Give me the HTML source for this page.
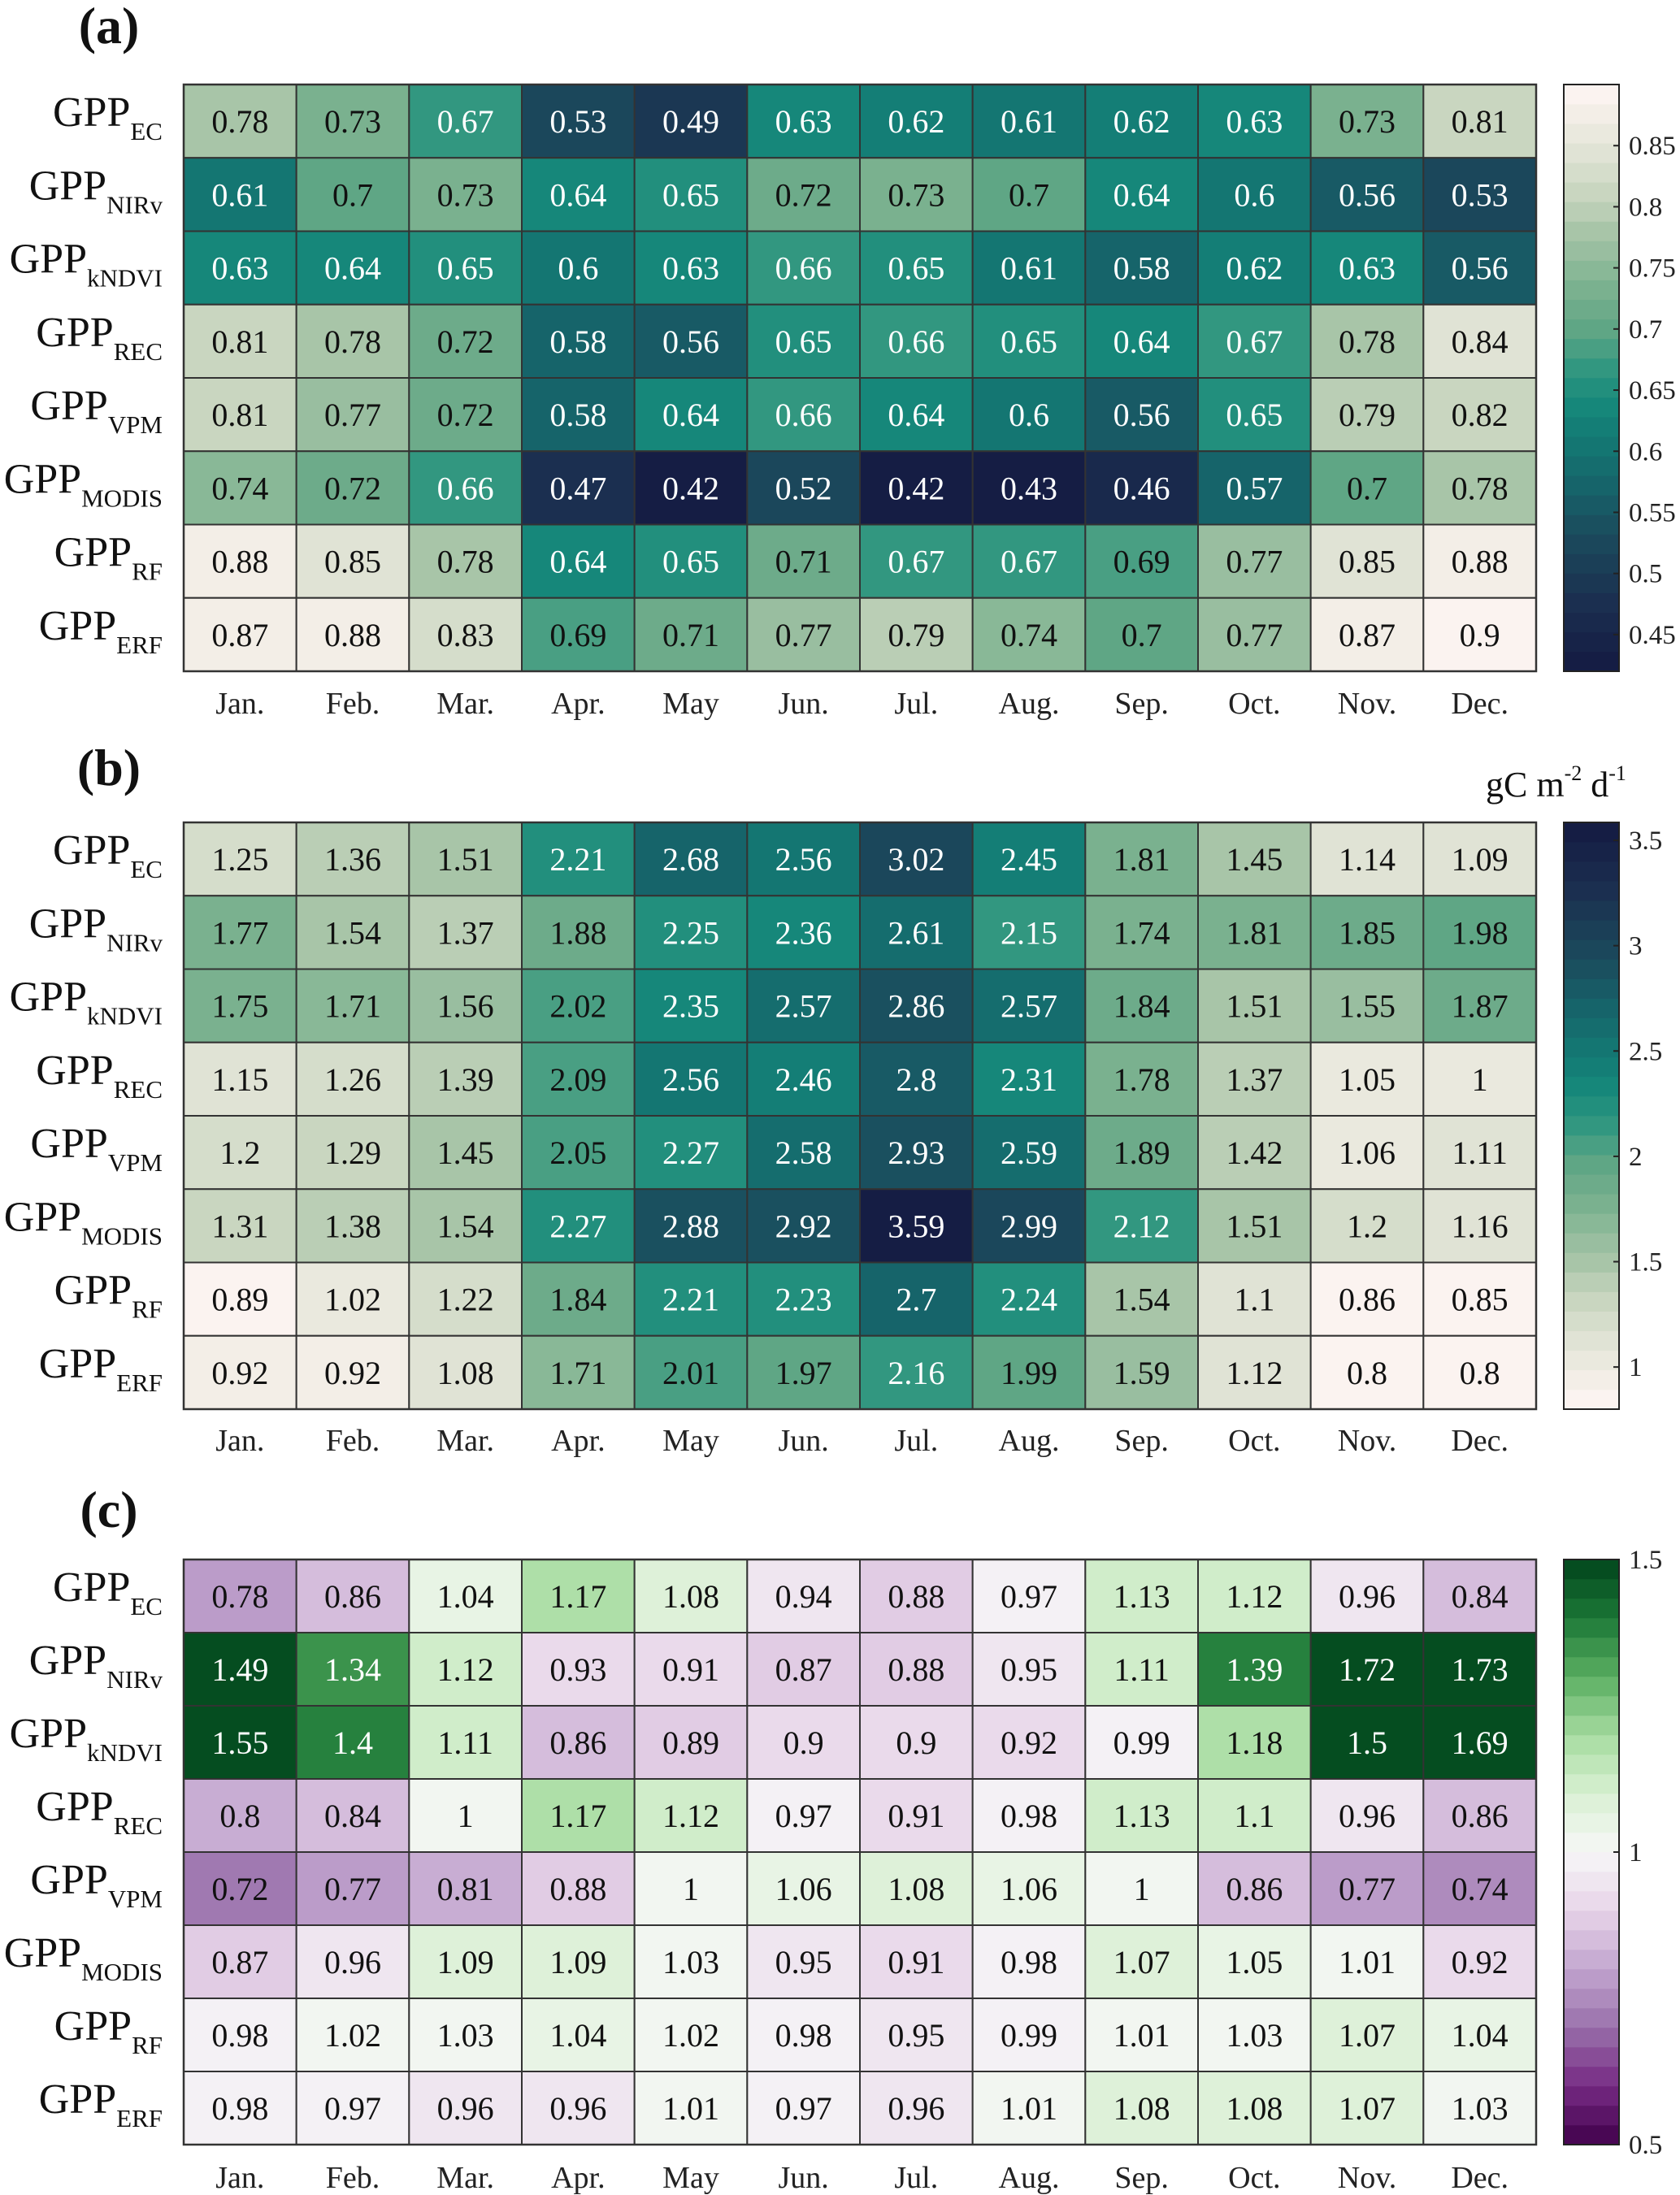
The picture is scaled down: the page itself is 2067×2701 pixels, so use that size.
<!DOCTYPE html>
<html><head><meta charset="utf-8"><style>
html,body{margin:0;padding:0;background:#fff;}
svg{display:block;}
svg text{font-family:"Liberation Serif","DejaVu Serif",serif;}
</style></head><body>
<svg id="fig" width="2067" height="2701" viewBox="0 0 2067 2701" font-family="Liberation Serif, serif" xmlns="http://www.w3.org/2000/svg"></svg>
<script>
const months = ["Jan.","Feb.","Mar.","Apr.","May","Jun.","Jul.","Aug.","Sep.","Oct.","Nov.","Dec."];
const rowSubs = ["EC","NIRv","kNDVI","REC","VPM","MODIS","RF","ERF"];
const valuesA = [
[0.78,0.73,0.67,0.53,0.49,0.63,0.62,0.61,0.62,0.63,0.73,0.81],
[0.61,0.7,0.73,0.64,0.65,0.72,0.73,0.7,0.64,0.6,0.56,0.53],
[0.63,0.64,0.65,0.6,0.63,0.66,0.65,0.61,0.58,0.62,0.63,0.56],
[0.81,0.78,0.72,0.58,0.56,0.65,0.66,0.65,0.64,0.67,0.78,0.84],
[0.81,0.77,0.72,0.58,0.64,0.66,0.64,0.6,0.56,0.65,0.79,0.82],
[0.74,0.72,0.66,0.47,0.42,0.52,0.42,0.43,0.46,0.57,0.7,0.78],
[0.88,0.85,0.78,0.64,0.65,0.71,0.67,0.67,0.69,0.77,0.85,0.88],
[0.87,0.88,0.83,0.69,0.71,0.77,0.79,0.74,0.7,0.77,0.87,0.9]];
const valuesB = [
[1.25,1.36,1.51,2.21,2.68,2.56,3.02,2.45,1.81,1.45,1.14,1.09],
[1.77,1.54,1.37,1.88,2.25,2.36,2.61,2.15,1.74,1.81,1.85,1.98],
[1.75,1.71,1.56,2.02,2.35,2.57,2.86,2.57,1.84,1.51,1.55,1.87],
[1.15,1.26,1.39,2.09,2.56,2.46,2.8,2.31,1.78,1.37,1.05,1],
[1.2,1.29,1.45,2.05,2.27,2.58,2.93,2.59,1.89,1.42,1.06,1.11],
[1.31,1.38,1.54,2.27,2.88,2.92,3.59,2.99,2.12,1.51,1.2,1.16],
[0.89,1.02,1.22,1.84,2.21,2.23,2.7,2.24,1.54,1.1,0.86,0.85],
[0.92,0.92,1.08,1.71,2.01,1.97,2.16,1.99,1.59,1.12,0.8,0.8]];
const valuesC = [
[0.78,0.86,1.04,1.17,1.08,0.94,0.88,0.97,1.13,1.12,0.96,0.84],
[1.49,1.34,1.12,0.93,0.91,0.87,0.88,0.95,1.11,1.39,1.72,1.73],
[1.55,1.4,1.11,0.86,0.89,0.9,0.9,0.92,0.99,1.18,1.5,1.69],
[0.8,0.84,1,1.17,1.12,0.97,0.91,0.98,1.13,1.1,0.96,0.86],
[0.72,0.77,0.81,0.88,1,1.06,1.08,1.06,1,0.86,0.77,0.74],
[0.87,0.96,1.09,1.09,1.03,0.95,0.91,0.98,1.07,1.05,1.01,0.92],
[0.98,1.02,1.03,1.04,1.02,0.98,0.95,0.99,1.01,1.03,1.07,1.04],
[0.98,0.97,0.96,0.96,1.01,0.97,0.96,1.01,1.08,1.08,1.07,1.03]];
const ticksA = [0.45,0.5,0.55,0.6,0.65,0.7,0.75,0.8,0.85];
const ticksB = [1,1.5,2,2.5,3,3.5];
const ticksC = [0.5,1,1.5];

const NS="http://www.w3.org/2000/svg";
const svg=document.getElementById('fig');
function mk(tag,attrs,parent){const e=document.createElementNS(NS,tag);for(const k in attrs)e.setAttribute(k,attrs[k]);if(tag==='text')e.setAttribute('font-family','Liberation Serif, serif');(parent||svg).appendChild(e);return e;}
function hex(h){return [parseInt(h.slice(1,3),16),parseInt(h.slice(3,5),16),parseInt(h.slice(5,7),16)];}
function interp(stops,t){t=Math.max(0,Math.min(1,t));for(let i=1;i<stops.length;i++){if(t<=stops[i][0]){const a=stops[i-1],b=stops[i];const f=(t-a[0])/(b[0]-a[0]);const ca=hex(a[1]),cb=hex(b[1]);return 'rgb('+ca.map((v,j)=>Math.round(v+(cb[j]-v)*f)).join(',')+')';}}return stops[stops.length-1][1];}
const tempo=[[0,'#fff6f4'],[0.1,'#e6e6da'],[0.2,'#c3d3bb'],[0.25,'#a8c5a8'],[0.35,'#7ab18f'],[0.42,'#5ea585'],[0.48,'#349880'],[0.54,'#178a7b'],[0.6,'#137a74'],[0.68,'#16656b'],[0.77,'#1b4a5c'],[0.88,'#1b3050'],[1,'#141a42']];
const prgn=[[0,'#40004b'],[0.1,'#762a83'],[0.2,'#9970ab'],[0.3,'#c2a5cf'],[0.4,'#e7d4e8'],[0.5,'#f7f7f7'],[0.6,'#d9f0d3'],[0.7,'#a6dba0'],[0.8,'#5aae61'],[0.9,'#1b7837'],[1,'#00441b']];
const NL=30;
function q(t){t=Math.max(0,Math.min(0.9999,t));return (Math.floor(t*NL)+0.5)/NL;}

const X0=226,X1=1890,CBX0=1924,CBX1=1992;
const panels=[
 {id:'a',vals:valuesA,top:104,bot:826,vmin:0.42,vmax:0.9,rev:true,stops:tempo,ticks:ticksA,white:c=>c>0.47,label:'(a)',ly:31,my:865},
 {id:'b',vals:valuesB,top:1012,bot:1734,vmin:0.8,vmax:3.585,rev:false,stops:tempo,ticks:ticksB,white:c=>c>0.47,label:'(b)',ly:944,my:1772},
 {id:'c',vals:valuesC,top:1919,bot:2639,vmin:0.5,vmax:1.5,rev:false,stops:prgn,ticks:ticksC,white:c=>c>0.8,label:'(c)',ly:1857,my:2679}
];
panels.forEach(p=>{
 const g=mk('g',{});
 
 
 const cw=(X1-X0)/12, rh=(p.bot-p.top)/8;
 const xs=i=>X0+i*cw, ys=j=>p.top+j*rh;
 const tOf=v=>(v-p.vmin)/(p.vmax-p.vmin);
 const cpar=t=>p.rev?1-t:t;
 const col=v=>interp(p.stops,cpar(q(tOf(v))));
 const lab=mk('text',{x:134,y:p.ly+22,'text-anchor':'middle','font-size':64,'font-weight':'bold',fill:'#111'},g);
 lab.textContent=p.label;
 
 
 p.vals.forEach((row,j)=>{row.forEach((v,i)=>{
   const r=mk('rect',{x:xs(i),y:ys(j),width:cw,height:rh,fill:col(v),stroke:'#333','stroke-width':2},g);
   
   
   const c=cpar(tOf(v));
   const tx=mk('text',{x:xs(i)+cw/2,y:ys(j)+rh/2+14,'text-anchor':'middle','font-size':40,fill:p.white(c)?'#fff':'#111'},g);
   tx.textContent=String(v);
   
   
 });
  const rl=mk('text',{x:200,y:ys(j)+rh/2+6,'text-anchor':'end','font-size':52,fill:'#111'},g);
  
  
  const t1=document.createElementNS(NS,'tspan');t1.textContent='GPP';rl.appendChild(t1);
  const t2=document.createElementNS(NS,'tspan');t2.setAttribute('font-size','31');t2.setAttribute('dy','17');t2.textContent=rowSubs[j];rl.appendChild(t2);
 });
 mk('rect',{x:X0,y:p.top,width:X1-X0,height:p.bot-p.top,fill:'none',stroke:'#333','stroke-width':2.5},g);
 months.forEach((m,i)=>{
   const t=mk('text',{x:xs(i)+cw/2,y:p.my+13,'text-anchor':'middle','font-size':38,fill:'#222'},g);
   t.textContent=m;
   
   
 });
 const cb=mk('g',{},g);
 
 
 const H=p.bot-p.top;
 for(let k=0;k<NL;k++){
   const tt=(k+0.5)/NL;
   const y0=p.bot-(k+1)*H/NL;
   mk('rect',{x:CBX0,y:y0-0.3,width:CBX1-CBX0,height:H/NL+0.6,fill:interp(p.stops,cpar(tt))},cb);
 }
 mk('rect',{x:CBX0,y:p.top,width:CBX1-CBX0,height:H,fill:'none',stroke:'#222','stroke-width':2},cb);
 const yv=v=>p.bot-tOf(v)*H;
 p.ticks.forEach(v=>{
   const y=yv(v);
   mk('line',{x1:CBX1-7,x2:CBX1,y1:y,y2:y,stroke:'#222','stroke-width':2},cb);
   const t=mk('text',{x:2004,y:y+11,'font-size':33,fill:'#222'},cb);
   t.textContent=String(v);
   
   
 });
});
const u=mk('text',{x:1828,y:980,'font-size':44,fill:'#111'});


u.innerHTML='gC m<tspan font-size="26" dy="-20">-2</tspan><tspan dy="20"> d</tspan><tspan font-size="26" dy="-20">-1</tspan>';
</script>
</body></html>
